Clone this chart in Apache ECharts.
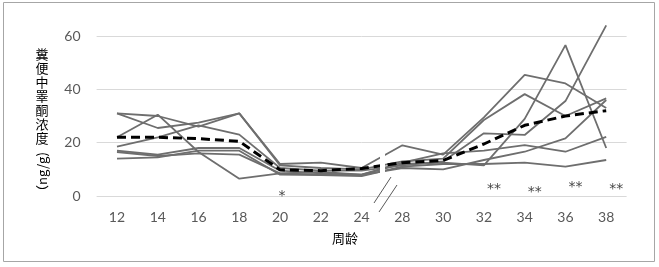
<!DOCTYPE html>
<html>
<head>
<meta charset="utf-8">
<script src="https://cdn.jsdelivr.net/npm/echarts@6/dist/echarts.min.js"></script>
<style>
  html, body { margin: 0; padding: 0; background: #fff; }
  #main { width: 659px; height: 267px; }
</style>
</head>
<body>
<div id="main"></div>
<script>
// week of age (axis is broken between 24 and 28)
var weeks = ["12", "14", "16", "18", "20", "22", "24", "28", "30", "32", "34", "36", "38"];
var yTicks = [0, 20, 40, 60];

// individual animals, ng/g
var s1 = [31, 30, 26, 31, 12, 12.5, 10.5, 19, 15.5, 29.5, 45.4, 42.2, 33];
var s2 = [31, 25.5, 27.5, 31, 11.5, 10.5, 10, 13, 14, 28.5, 38.2, 30, 36.6];
var s3 = [22, 30.5, 16.5, 6.5, 8.5, 9, 8, 12, 12.5, 11.5, 28.9, 56.6, 18];
var s4 = [18.5, 22, 26.5, 23, 10.5, 9.5, 9.5, 11.5, 13, 23.5, 22.9, 35.6, 64];
var s5 = [17, 15.5, 18, 18, 9.5, 8.5, 8, 12.5, 16, 17, 19.1, 16.6, 22.2];
var s6 = [16.5, 15, 16, 15.5, 8.5, 8, 7.9, 10.5, 10, 13.5, 16.6, 21.6, 36];
var s7 = [14, 14.5, 17, 17, 8, 7.8, 7.5, 11, 12, 12, 12.5, 11, 13.5];
// group mean (dashed)
var meanVals = [22, 22, 21.5, 20.5, 9.8, 9.5, 10.3, 12.5, 13.3, 19.5, 26.5, 30, 32];

// significance marks
var starWeeks = ["20", "32", "34", "36", "38"];
var starMarks = ["*", "**", "**", "**", "**"];
var starVals = [0, 2.5, 1.3, 3.1, 2.5];

var chart = echarts.init(document.getElementById('main'));

var series = [];
[s1, s2, s3, s4, s5, s6, s7].forEach(function (d, i) {
    series.push({
        name: 'n' + (i + 1),
        type: 'line',
        data: d,
        showSymbol: false,
        clip: false,
        silent: true,
        lineStyle: { color: '#6e6e6e', width: 1.8 },
        z: 2
    });
});
series.push({
    name: 'mean',
    type: 'line',
    data: meanVals,
    showSymbol: false,
    clip: false,
    lineStyle: { color: '#000', width: 3, type: [9, 5] },
    z: 3
});
series.push({
    name: 'sig',
    type: 'scatter',
    symbolSize: 1,
    itemStyle: { color: 'rgba(0,0,0,0)' },
    data: starWeeks.map(function (w, i) {
        return {
            value: [w, starVals[i]],
            label: { formatter: starMarks[i], offset: [starMarks[i].length > 1 ? 10 : 2, 0] }
        };
    }),
    label: {
        show: true,
        position: 'inside',
        color: '#111',
        fontSize: 14,
        fontFamily: 'DejaVu Sans'
    },
    z: 4
});

var yText = '糞\n便\n中\n睪\n酮\n浓\n度';

chart.setOption({
    animation: false,
    grid: { left: 96.6, right: 32.4, top: 36, bottom: 71 },
    xAxis: {
        type: 'category',
        data: weeks,
        axisLine: { show: false },
        axisTick: { show: false },
        axisLabel: { color: '#595959', fontSize: 14, fontFamily: 'Lato', margin: 14 }
    },
    yAxis: {
        type: 'value',
        min: yTicks[0],
        max: yTicks[yTicks.length - 1],
        interval: 20,
        axisLine: { show: false },
        axisTick: { show: false },
        axisLabel: { color: '#595959', fontSize: 14, fontFamily: 'Lato', margin: 16 },
        splitLine: { lineStyle: { color: '#d9d9d9', width: 1 } }
    },
    series: series,
    graphic: [
        {   // outer frame
            type: 'rect',
            shape: { x: 3.5, y: 2.5, width: 651, height: 259 },
            style: { fill: 'none', stroke: '#a6a6a6', lineWidth: 1 },
            silent: true
        },
        {   // gap in the lines at the axis break
            type: 'rect',
            shape: { x: 380, y: 146, width: 5, height: 32 },
            style: { fill: '#fff' },
            z: 100
        },
        {
            type: 'line',
            shape: { x1: 374, y1: 203, x2: 391, y2: 177 },
            style: { stroke: '#595959', lineWidth: 1 },
            z: 101
        },
        {
            type: 'line',
            shape: { x1: 379, y1: 212, x2: 397, y2: 185 },
            style: { stroke: '#595959', lineWidth: 1 },
            z: 101
        },
        {
            type: 'text',
            x: 42,
            y: 47,
            style: {
                text: yText,
                fill: '#000',
                fontSize: 13,
                lineHeight: 14,
                fontFamily: 'Noto Sans CJK SC',
                align: 'center',
                verticalAlign: 'top'
            }
        },
        {
            type: 'text',
            x: 42,
            y: 175,
            rotation: Math.PI / 2,
            style: {
                text: '（ng/g)',
                fill: '#000',
                fontSize: 13,
                fontFamily: 'Noto Sans CJK SC',
                align: 'center',
                verticalAlign: 'middle'
            }
        },
        {
            type: 'text',
            x: 345,
            y: 238,
            style: {
                text: '周龄',
                fill: '#000',
                fontSize: 13,
                fontFamily: 'Noto Sans CJK SC',
                align: 'center',
                verticalAlign: 'middle'
            }
        }
    ]
});
</script>
</body>
</html>
